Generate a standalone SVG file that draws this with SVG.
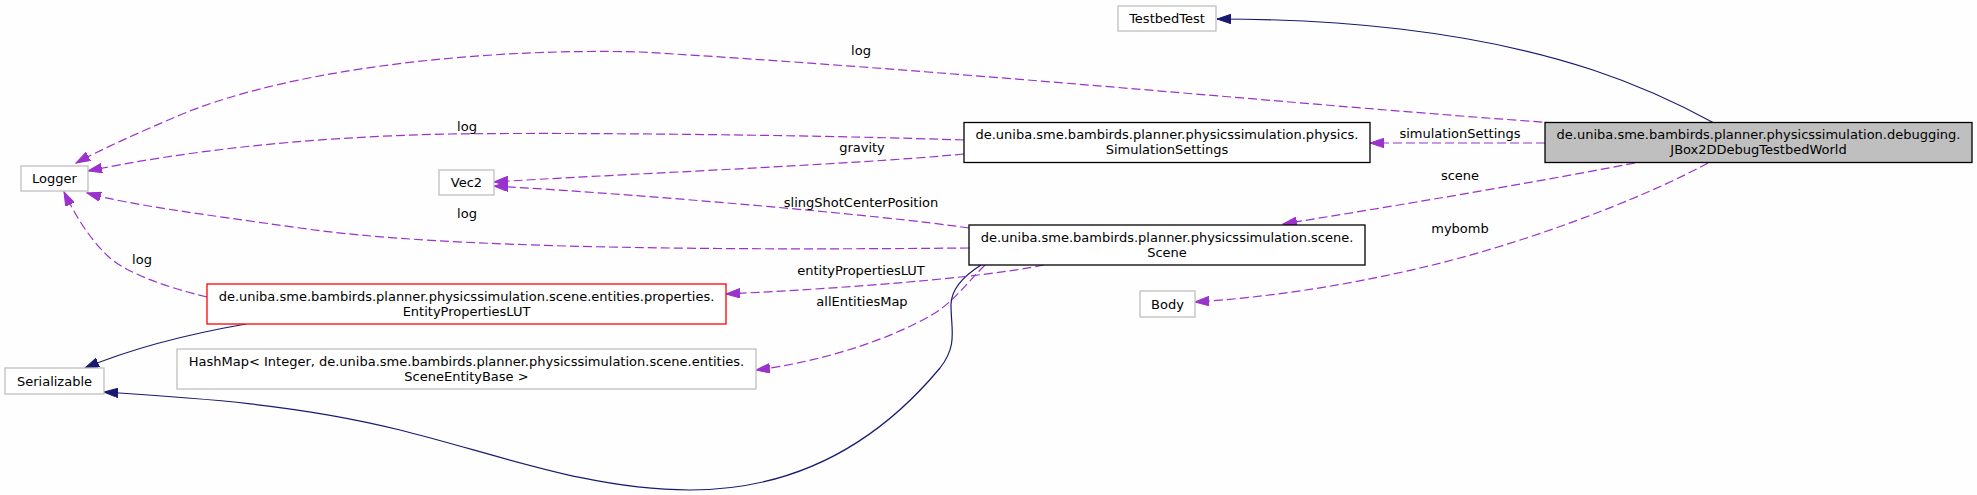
<svg xmlns="http://www.w3.org/2000/svg" width="1977" height="495" viewBox="0 0 1977 495">
<defs>
<style>
text{font-family:"DejaVu Sans","Liberation Sans",sans-serif;font-size:13px;fill:#000;text-anchor:middle}
.ext{fill:#fff;stroke:#bfbfbf;stroke-width:1.3}
.doc{fill:#fff;stroke:#000;stroke-width:1.3}
.red{fill:#fff;stroke:#ff0000;stroke-width:1.3}
.cur{fill:#bfbfbf;stroke:#000;stroke-width:1.3}
.use{fill:none;stroke:#9a32cd;stroke-width:1.2;stroke-dasharray:9,4;marker-end:url(#ap)}
.inh{fill:none;stroke:#191970;stroke-width:1.2;marker-end:url(#ab)}
</style>
<marker id="ap" markerUnits="userSpaceOnUse" markerWidth="15" markerHeight="10" refX="14" refY="4.75" orient="auto"><path d="M0,0 L14,4.75 L0,9.5 z" fill="#9a32cd" stroke="#9a32cd" stroke-width="1"/></marker>
<marker id="ab" markerUnits="userSpaceOnUse" markerWidth="15" markerHeight="10" refX="14" refY="4.75" orient="auto"><path d="M0,0 L14,4.75 L0,9.5 z" fill="#191970" stroke="#191970" stroke-width="1"/></marker>
</defs>
<rect x="0" y="0" width="1977" height="495" fill="#fdfefd"/>
<g id="connectors">
<path class="inh" d="M1714,123 C1650,88 1560,48 1400,29 C1340,22 1270,19 1217,19"/>
<path class="use" d="M1555,123 C1300,105 950,70 640,52 C500,48 300,65 180,115 C140,132 100,150 76,163"/>
<text x="861" y="55">log</text>
<path class="use" d="M964,140 C850,136 600,132 450,134 C300,137 180,152 88,171"/>
<text x="467" y="131">log</text>
<path class="use" d="M964,154 C850,165 600,175 494,182"/>
<text x="862" y="152">gravity</text>
<path class="use" d="M969,228 C880,215 650,195 494,186"/>
<text x="861" y="207">slingShotCenterPosition</text>
<path class="use" d="M969,248 C750,250 450,250 300,228 C200,214 130,205 87,193"/>
<text x="467" y="218">log</text>
<path class="use" d="M207,297 C170,288 130,275 110,258 C90,240 75,215 64,192"/>
<text x="142" y="264">log</text>
<path class="inh" d="M246,324 C200,332 140,345 85,368"/>
<path class="inh" d="M981,265 C962,277 951,290 951,305 C951,330 958,345 940,368 C880,440 800,490 690,490 C590,490 500,455 400,430 C300,405 200,398 104,392"/>
<path class="use" d="M1545,143 L1370,143"/>
<text x="1460" y="138">simulationSettings</text>
<path class="use" d="M1635,163 C1520,185 1400,205 1283,224"/>
<text x="1460" y="180">scene</text>
<path class="use" d="M1708,163 C1640,200 1520,245 1420,268 C1340,287 1260,298 1195,302"/>
<text x="1460" y="233">mybomb</text>
<path class="use" d="M1044,265 C980,278 850,288 726,294"/>
<text x="861" y="275">entityPropertiesLUT</text>
<path class="use" d="M985,265 C965,285 955,300 935,313 C890,340 820,362 756,370"/>
<text x="862" y="306">allEntitiesMap</text>
</g>
<g id="node-jbox">
<rect class="cur" x="1545" y="122.5" width="427" height="40"/>
<text x="1758.5" y="139">de.uniba.sme.bambirds.planner.physicssimulation.debugging.</text>
<text x="1758.5" y="154">JBox2DDebugTestbedWorld</text>
</g>
<g id="node-testbedtest">
<rect class="ext" x="1118" y="6" width="98" height="25"/>
<text x="1167" y="23">TestbedTest</text>
</g>
<g id="node-logger">
<rect class="ext" x="21" y="166" width="67" height="25"/>
<text x="54.5" y="183">Logger</text>
</g>
<g id="node-vec2">
<rect class="ext" x="439" y="170" width="55" height="25"/>
<text x="466.5" y="187">Vec2</text>
</g>
<g id="node-simulationsettings">
<rect class="doc" x="964" y="122.5" width="406" height="40"/>
<text x="1167" y="139">de.uniba.sme.bambirds.planner.physicssimulation.physics.</text>
<text x="1167" y="154">SimulationSettings</text>
</g>
<g id="node-scene">
<rect class="doc" x="969" y="225" width="396" height="40"/>
<text x="1167" y="241.5">de.uniba.sme.bambirds.planner.physicssimulation.scene.</text>
<text x="1167" y="256.5">Scene</text>
</g>
<g id="node-body">
<rect class="ext" x="1140" y="291" width="55" height="26"/>
<text x="1167.5" y="308.5">Body</text>
</g>
<g id="node-entitypropertieslut">
<rect class="red" x="207" y="284" width="519" height="40"/>
<text x="466.5" y="300.5">de.uniba.sme.bambirds.planner.physicssimulation.scene.entities.properties.</text>
<text x="466.5" y="315.5">EntityPropertiesLUT</text>
</g>
<g id="node-hashmap">
<rect class="ext" x="177" y="349" width="579" height="40"/>
<text x="466.5" y="365.5">HashMap&lt; Integer, de.uniba.sme.bambirds.planner.physicssimulation.scene.entities.</text>
<text x="466.5" y="380.5">SceneEntityBase &gt;</text>
</g>
<g id="node-serializable">
<rect class="ext" x="5" y="368" width="99" height="26"/>
<text x="54.5" y="385.5">Serializable</text>
</g>
</svg>
